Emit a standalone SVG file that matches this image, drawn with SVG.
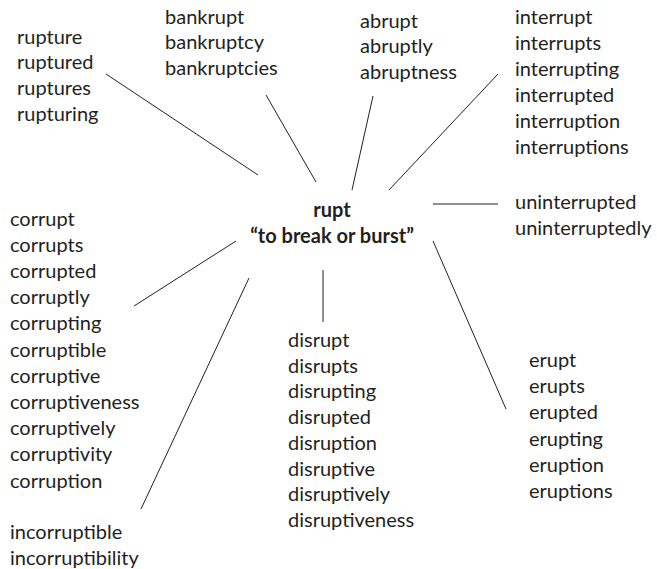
<svg xmlns="http://www.w3.org/2000/svg" width="657" height="569" viewBox="0 0 657 569">
<style>
text{font-family:Lato,"Open Sans","Liberation Sans",sans-serif;font-size:20px;fill:#231f20}
.b{font-weight:bold;text-anchor:middle}
line{stroke:#231f20;stroke-width:1}
</style>
<rect width="657" height="569" fill="#fff"/>
<g id="connectors">
<line x1="106" y1="74" x2="258" y2="175"/>
<line x1="266" y1="95" x2="316" y2="182"/>
<line x1="373" y1="96" x2="352" y2="190"/>
<line x1="498" y1="74" x2="389" y2="190"/>
<line x1="433" y1="204" x2="498" y2="204"/>
<line x1="433" y1="241" x2="506" y2="409"/>
<line x1="323" y1="270" x2="323" y2="322"/>
<line x1="134" y1="306" x2="236" y2="241"/>
<line x1="141" y1="509" x2="249" y2="278"/>
</g>
<g id="center"><text class="b" x="332" y="217">rupt</text><text class="b" x="332" y="243">“to break or burst”</text></g>
<g id="rupture"><text x="17" y="43.5">rupture</text><text x="17" y="69.2">ruptured</text><text x="17" y="94.9">ruptures</text><text x="17" y="120.6">rupturing</text></g>
<g id="bankrupt"><text x="165" y="23.5">bankrupt</text><text x="165" y="49.2">bankruptcy</text><text x="165" y="74.9">bankruptcies</text></g>
<g id="abrupt"><text x="360" y="27.5">abrupt</text><text x="360" y="53.2">abruptly</text><text x="360" y="78.9">abruptness</text></g>
<g id="interrupt"><text x="515" y="24">interrupt</text><text x="515" y="49.9">interrupts</text><text x="515" y="75.8">interrupting</text><text x="515" y="101.7">interrupted</text><text x="515" y="127.6">interruption</text><text x="515" y="153.5">interruptions</text></g>
<g id="uninterrupted"><text x="515" y="208.5">uninterrupted</text><text x="515" y="234.5">uninterruptedly</text></g>
<g id="corrupt"><text x="10" y="225.5">corrupt</text><text x="10" y="251.7">corrupts</text><text x="10" y="277.9">corrupted</text><text x="10" y="304.1">corruptly</text><text x="10" y="330.3">corrupting</text><text x="10" y="356.5">corruptible</text><text x="10" y="382.7">corruptive</text><text x="10" y="408.9">corruptiveness</text><text x="10" y="435.1">corruptively</text><text x="10" y="461.3">corruptivity</text><text x="10" y="487.5">corruption</text></g>
<g id="incorruptible"><text x="10" y="538.5">incorruptible</text><text x="10" y="565">incorruptibility</text></g>
<g id="disrupt"><text x="288" y="347">disrupt</text><text x="288" y="372.7">disrupts</text><text x="288" y="398.4">disrupting</text><text x="288" y="424.1">disrupted</text><text x="288" y="449.8">disruption</text><text x="288" y="475.5">disruptive</text><text x="288" y="501.2">disruptively</text><text x="288" y="526.9">disruptiveness</text></g>
<g id="erupt"><text x="529" y="367">erupt</text><text x="529" y="393.2">erupts</text><text x="529" y="419.4">erupted</text><text x="529" y="445.6">erupting</text><text x="529" y="471.8">eruption</text><text x="529" y="498">eruptions</text></g>
</svg>
